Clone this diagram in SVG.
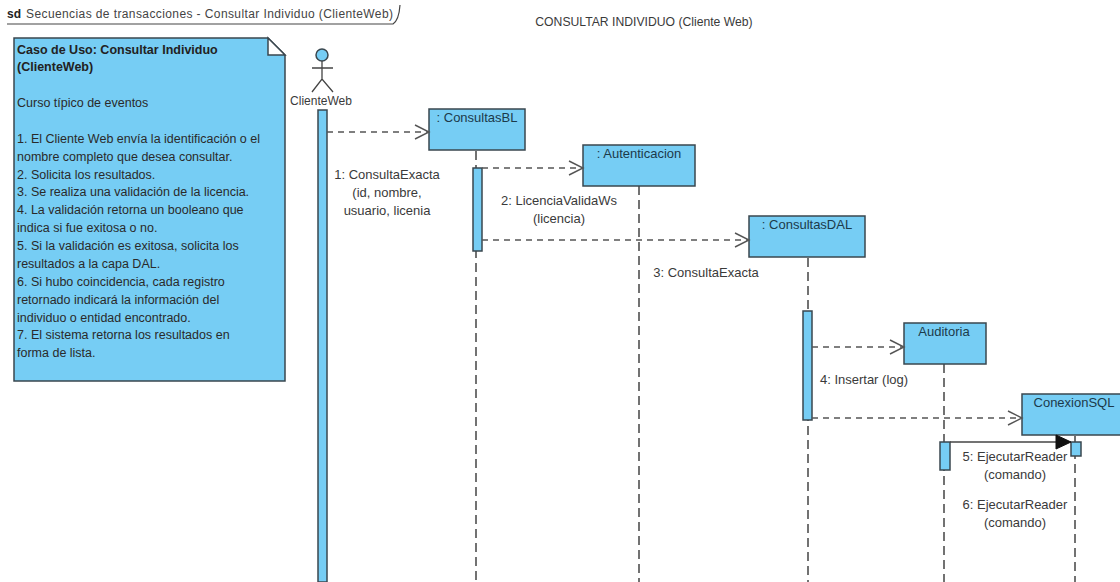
<svg xmlns="http://www.w3.org/2000/svg" width="1120" height="582" viewBox="0 0 1120 582">
<style>
text{font-family:"Liberation Sans",Arial,sans-serif;font-size:13px;fill:#3a3a3a}
.t{fill:#1c3a4a}
.c{text-anchor:middle}
.n{font-size:12.5px;fill:#2a2a2a}
.b{fill:#76cdf4;stroke:#3a474f;stroke-width:1.5}
.l{stroke:#444;stroke-width:1.5;stroke-dasharray:9 5;fill:none}
.m{stroke:#555;stroke-width:1.4;stroke-dasharray:6 5;fill:none;marker-end:url(#o)}
</style>
<defs>
<marker id="o" markerUnits="userSpaceOnUse" markerWidth="18" markerHeight="16" refX="15" refY="8" orient="auto"><path d="M1 1L15 8L1 15" fill="none" stroke="#555" stroke-width="1.4"/></marker>
</defs>
<rect width="1120" height="582" fill="#fff"/>
<g id="frame">
<path d="M7 24H393Q399 20 400 5" fill="none" stroke="#444" stroke-width="1.2"/>
<text x="7" y="18" style="font-size:12px;font-weight:bold;fill:#222">sd</text>
<text x="26" y="18" style="font-size:12px;fill:#444" textLength="367" lengthAdjust="spacing">Secuencias de transacciones - Consultar Individuo (ClienteWeb)</text>
</g>
<text x="644" y="26" class="c" style="font-size:12.2px">CONSULTAR INDIVIDUO (Cliente Web)</text>
<g id="note">
<path class="b" d="M14 38H268L285 55V381H14Z"/>
<path d="M268 38V55H285Z" fill="#fff" stroke="#3a474f" stroke-width="1.5"/>
<text x="17" y="54" style="font-weight:bold;font-size:12.5px;fill:#222">Caso de Uso: Consultar Individuo</text>
<text x="17" y="71" style="font-weight:bold;font-size:12.5px;fill:#222">(ClienteWeb)</text>
<text x="17" y="107" class="n">Curso típico de eventos</text>
<text x="17" y="143" class="n">1. El Cliente Web envía la identificación o el</text>
<text x="17" y="161" class="n">nombre completo que desea consultar.</text>
<text x="17" y="179" class="n">2. Solicita los resultados.</text>
<text x="17" y="196" class="n">3. Se realiza una validación de la licencia.</text>
<text x="17" y="214" class="n">4. La validación retorna un booleano que</text>
<text x="17" y="232" class="n">indica si fue exitosa o no.</text>
<text x="17" y="250" class="n">5. Si la validación es exitosa, solicita los</text>
<text x="17" y="268" class="n">resultados a la capa DAL.</text>
<text x="17" y="286" class="n">6. Si hubo coincidencia, cada registro</text>
<text x="17" y="304" class="n">retornado indicará la información del</text>
<text x="17" y="322" class="n">individuo o entidad encontrado.</text>
<text x="17" y="339" class="n">7. El sistema retorna los resultados en</text>
<text x="17" y="357" class="n">forma de lista.</text>
</g>
<g id="lifelines">
<path class="l" d="M476 151V582M639 186V582M808 258V582M944 364V582M1075 436V582"/>
</g>
<g id="clienteweb">
<circle cx="322" cy="55" r="6" fill="#76cdf4" stroke="#3a474f" stroke-width="1.5"/>
<path d="M322 61V79M312 68H333M312 92L322 79L333 92" fill="none" stroke="#444" stroke-width="1.3"/>
<text x="321" y="105" class="c" style="font-size:12px">ClienteWeb</text>
<rect class="b" x="318" y="110" width="9" height="472"/>
</g>
<g id="consultasbl">
<rect class="b" x="429" y="109" width="96" height="41"/>
<text x="477" y="122" class="c t">: ConsultasBL</text>
<rect class="b" x="473" y="168" width="9" height="83"/>
</g>
<g id="autenticacion">
<rect class="b" x="583" y="145" width="112" height="41"/>
<text x="639" y="158" class="c t">: Autenticacion</text>
</g>
<g id="consultasdal">
<rect class="b" x="749" y="216" width="116" height="41"/>
<text x="807" y="229" class="c t">: ConsultasDAL</text>
<rect class="b" x="803" y="311" width="9" height="109"/>
</g>
<g id="auditoria">
<rect class="b" x="904" y="323" width="82" height="41"/>
<text x="944" y="336" class="c t">Auditoria</text>
<rect class="b" x="940" y="442" width="10" height="28"/>
</g>
<g id="conexionsql">
<rect class="b" x="1022" y="394" width="100" height="41"/>
<text x="1074" y="407" class="c t">ConexionSQL</text>
<rect class="b" x="1071" y="442" width="10" height="14"/>
</g>
<g id="connectors">
<path class="m" d="M327 132H429"/>
<path class="m" d="M482 168H583"/>
<path class="m" d="M482 240H749"/>
<path class="m" d="M812 347H904"/>
<path class="m" d="M812 418H1022"/>
<path d="M950 442H1058" stroke="#444" stroke-width="1.4" fill="none"/>
<path d="M1056 435L1071 442L1056 449Z" fill="#111" stroke="#111"/>
</g>
<g id="labels">
<text x="387" y="179" class="c">1: ConsultaExacta</text>
<text x="387" y="197" class="c">(id, nombre,</text>
<text x="387" y="215" class="c">usuario, licenia</text>
<text x="559" y="205" class="c">2: LicenciaValidaWs</text>
<text x="559" y="223" class="c">(licencia)</text>
<text x="706" y="277" class="c">3: ConsultaExacta</text>
<text x="864" y="384" class="c">4: Insertar (log)</text>
<text x="1015" y="461" class="c">5: EjecutarReader</text>
<text x="1015" y="479" class="c">(comando)</text>
<text x="1015" y="509" class="c">6: EjecutarReader</text>
<text x="1015" y="527" class="c">(comando)</text>
</g>
</svg>
